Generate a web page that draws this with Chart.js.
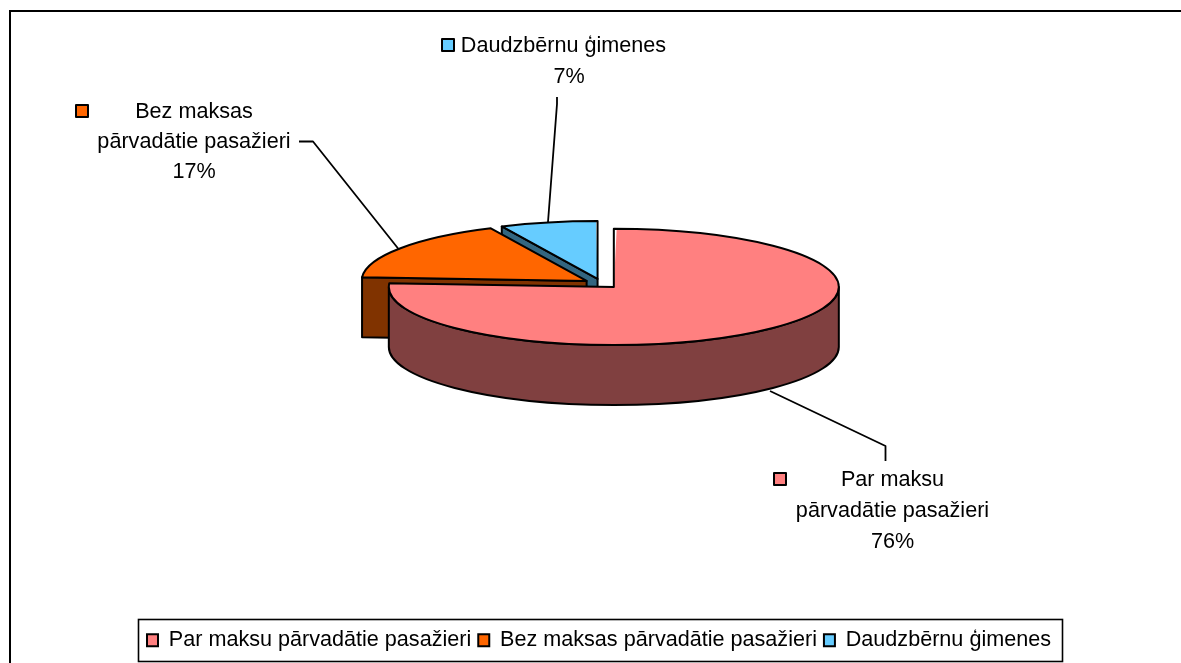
<!DOCTYPE html>
<html>
<head>
<meta charset="utf-8">
<script src="https://cdn.jsdelivr.net/npm/chart.js@4/dist/chart.umd.min.js"></script>
<style>html,body{margin:0;padding:0;background:#fff;overflow:hidden}canvas{display:block}</style>
</head>
<body>
<canvas id="c" width="1181" height="663"></canvas>
<script>
const categories = ["Par maksu pārvadātie pasažieri", "Bez maksas pārvadātie pasažieri", "Daudzbērnu ģimenes"];
const shares = [76, 17, 7];
const topColors = ["#FF8080", "#FF6600", "#66CCFF"];
const wallColors = ["#804040", "#803300", "#336680"];
const labelLineOne = ["Par maksu", "Bez maksas", "Daudzbērnu ģimenes"];
const labelLineTwo = ["pārvadātie pasažieri", "pārvadātie pasažieri", ""];

const FONT_SIZE = 21.6;
const FONT = FONT_SIZE+'px "Liberation Sans", Arial, sans-serif';
const RADIUS = 225, TILT = 0.258, DEPTH = 60, TX = 601.5, TY = 283.5, INK = "#000";
// callout layout: swatch box, text centre and line rows, leader polyline
const callouts = [
  {box:[774,473], cx:892.5, rows:[480,511,542], leader:[[770,391],[885.5,446],[885.5,461]]},
  {box:[76,105], cx:194, rows:[112,142,172], leader:[[299,141.5],[313,141.5],[398.5,249]]},
  {box:[442,39], cx:563.5, pctX:569, rows:[46,77], leader:[[557,97],[557,104],[548,222]]}
];

function geom(chart, el){
  const ca = chart.chartArea, cx=(ca.left+ca.right)/2, cy=(ca.top+ca.bottom)/2;
  const mid=(el.startAngle+el.endAngle)/2, off=(el.options.offset||0)/4;
  const vx=TX+(el.x-cx)+Math.cos(mid)*off;
  const vy=TY+TILT*(el.y-cy+Math.sin(mid)*off);
  return {vx,vy,r:RADIUS,a0:el.startAngle,a1:el.endAngle,cx,cy};
}
function paint(ctx, fill){
  ctx.fillStyle=fill; ctx.fill();
  ctx.strokeStyle=INK; ctx.lineWidth=2; ctx.lineJoin="round"; ctx.stroke();
}
function cutWall(ctx,g,ang,fill){
  const ex=g.vx+Math.cos(ang)*g.r, ey=g.vy+Math.sin(ang)*g.r*TILT;
  ctx.beginPath(); ctx.moveTo(g.vx,g.vy); ctx.lineTo(ex,ey); ctx.lineTo(ex,ey+DEPTH);
  ctx.lineTo(g.vx,g.vy+DEPTH); ctx.closePath(); paint(ctx,fill);
}
function outerWall(ctx,g,fill){
  const a0=Math.max(g.a0,0), a1=Math.min(g.a1,Math.PI);
  if(a1<=a0) return;
  ctx.beginPath();
  ctx.ellipse(g.vx,g.vy,g.r,g.r*TILT,0,a0,a1);
  ctx.ellipse(g.vx,g.vy+DEPTH,g.r,g.r*TILT,0,a1,a0,true);
  ctx.closePath(); paint(ctx,fill);
}
const pie3d = {
  id:"pie3d",
  afterDatasetsUpdate(chart){
    // the arc element widens an offset slice by offset/4 * (1 - sin(sweep)); undo it so all slices share one radius
    chart.getDatasetMeta(0).data.forEach(a=>{
      const sweep=a.endAngle-a.startAngle, off=(a.options.offset||0)/4;
      a.outerRadius=RADIUS-off*(1-Math.sin(Math.min(Math.PI,sweep)));
    });
  },
  beforeDraw(chart){
    const ctx=chart.ctx;
    ctx.save();
    ctx.fillStyle="#fff"; ctx.fillRect(0,0,1181,663);
    ctx.strokeStyle=INK; ctx.lineWidth=2;
    ctx.beginPath(); ctx.moveTo(10,663); ctx.lineTo(10,11); ctx.lineTo(1181,11); ctx.stroke();
    ctx.lineWidth=1.6; ctx.strokeRect(138.5,619.5,924,42);
    ctx.restore();
  },
  beforeDatasetsDraw(chart){
    const ctx=chart.ctx, arcs=chart.getDatasetMeta(0).data;
    const gs=arcs.map(a=>geom(chart,a));
    ctx.save();
    cutWall(ctx,gs[2],gs[2].a0,wallColors[2]);
    cutWall(ctx,gs[1],gs[1].a0,wallColors[1]);
    outerWall(ctx,gs[0],wallColors[0]);
    ctx.restore();
    ctx.save();
    ctx.translate(TX,TY); ctx.scale(1,TILT); ctx.translate(-gs[0].cx,-gs[0].cy);
  },
  afterDatasetsDraw(chart){
    const ctx=chart.ctx, arcs=chart.getDatasetMeta(0).data;
    ctx.restore();
    ctx.save();
    ctx.strokeStyle=INK; ctx.lineWidth=2; ctx.lineJoin="round";
    arcs.forEach(a=>{
      const g=geom(chart,a);
      ctx.beginPath(); ctx.moveTo(g.vx,g.vy);
      ctx.ellipse(g.vx,g.vy,g.r,g.r*TILT,0,g.a0,g.a1);
      ctx.closePath(); ctx.stroke();
    });
    // callouts
    ctx.font=FONT; ctx.textAlign="center"; ctx.textBaseline="middle";
    callouts.forEach((c,i)=>{
      ctx.strokeStyle=INK; ctx.lineWidth=1.8;
      ctx.beginPath(); c.leader.forEach((p,j)=>j?ctx.lineTo(p[0],p[1]):ctx.moveTo(p[0],p[1])); ctx.stroke();
      ctx.fillStyle=topColors[i]; ctx.fillRect(c.box[0],c.box[1],12,12);
      ctx.lineWidth=2; ctx.strokeRect(c.box[0],c.box[1],12,12);
      ctx.fillStyle=INK;
      const lines=[labelLineOne[i]]; if(labelLineTwo[i]) lines.push(labelLineTwo[i]);
      lines.forEach((t,j)=>ctx.fillText(t,c.cx,c.rows[j]));
      ctx.fillText(shares[i]+"%",c.pctX||c.cx,c.rows[lines.length]);
    });
    ctx.restore();
  }
};
Chart.defaults.font.family='"Liberation Sans", Arial, sans-serif';
Chart.defaults.font.size=FONT_SIZE;
Chart.defaults.color=INK;
new Chart(document.getElementById("c"),{
  type:"pie",
  data:{labels:categories,datasets:[{data:shares,backgroundColor:topColors,borderWidth:0,offset:72,radius:RADIUS,clip:false}]},
  options:{
    responsive:false,animation:false,rotation:0,radius:RADIUS,
    layout:{padding:{bottom:2,left:17}},
    plugins:{
      tooltip:{enabled:false},
      legend:{position:"bottom",labels:{
        boxWidth:11,boxHeight:12,padding:7,color:INK,
        generateLabels(chart){
          return Chart.overrides.pie.plugins.legend.labels.generateLabels(chart).map(l=>Object.assign(l,{strokeStyle:INK,lineWidth:2}));
        }
      }}
    }
  },
  plugins:[pie3d]
});
</script>
</body>
</html>
